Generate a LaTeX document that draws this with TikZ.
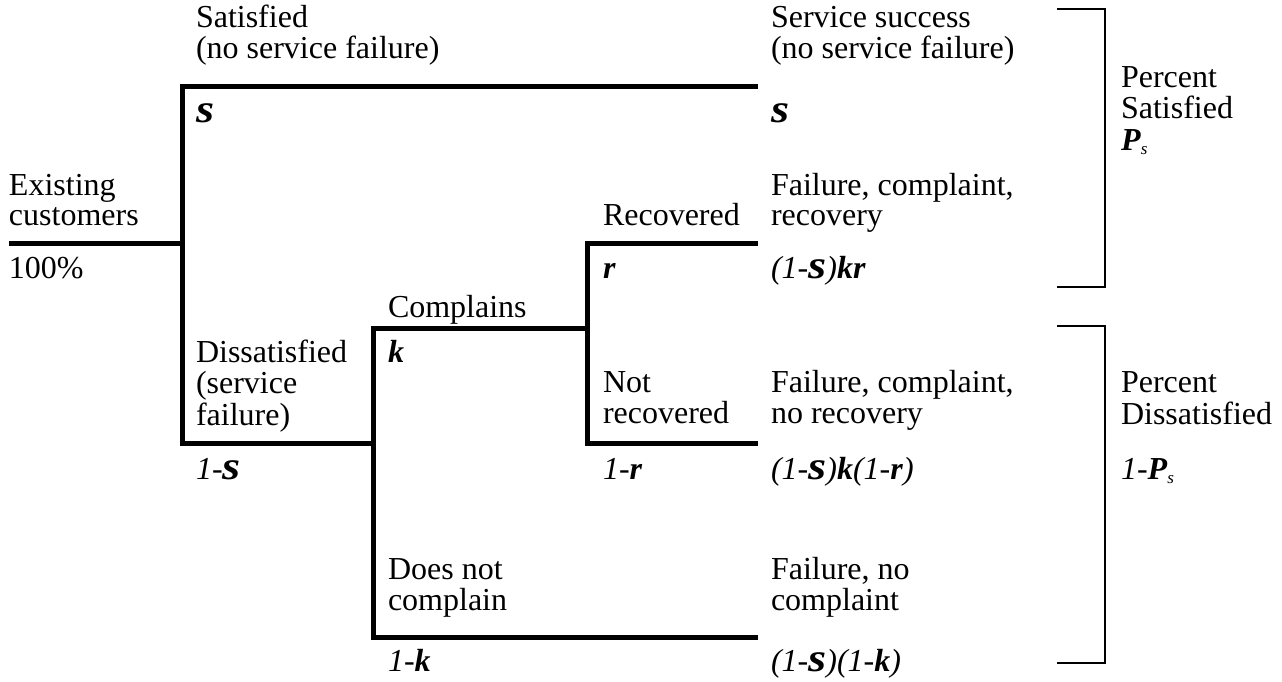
\documentclass[tikz,border=0pt]{standalone}
\usepackage{fontspec}
\usepackage{graphicx}
\setmainfont{Liberation Serif}
\newcommand\sv{\scalebox{1.45}[1.25]{\textbf{\textit{s}}}}
\newcommand\bi[1]{\textbf{\textit{#1}}}
\newcommand\Ps{\bi{P}\raisebox{-0.3ex}{\fontsize{17}{17}\selectfont\textit{s}}}
\newcommand\ml[1]{\begin{tabular}[t]{@{}l@{}}#1\end{tabular}}
\tikzset{
  tree/.style={line width=5pt, line join=miter, line cap=rect},
  brk/.style={line width=1.8pt, line join=miter},
  lbl/.style={anchor=base west, inner sep=0pt, outer sep=0pt, font=\fontsize{32}{30.5}\selectfont}
}
\begin{document}
\begin{tikzpicture}[x=1pt,y=-1pt]
\useasboundingbox (0,0) rectangle (1282,681);
\renewcommand\arraystretch{1}
% tree coordinates
\coordinate (root) at (11,243);
\coordinate (j1) at (182,243);
\coordinate (sTop) at (182,86);
\coordinate (sEnd) at (755,86);
\coordinate (j1b) at (182,443);
\coordinate (j2) at (373,443);
\coordinate (j2t) at (373,328);
\coordinate (j2b) at (373,637);
\coordinate (j3) at (587,328);
\coordinate (j3t) at (587,243);
\coordinate (j3b) at (587,443);
\coordinate (rEnd) at (755,243);
\coordinate (nrEnd) at (755,443);
\coordinate (ncEnd) at (755,637);
\draw[tree] (root) -- (j1);
\draw[tree] (sEnd) -- (sTop) -- (j1b) -- (j2);
\draw[tree] (j2t) -- (j2b) -- (ncEnd);
\draw[tree] (j2t) -- (j3);
\draw[tree] (rEnd) -- (j3t) -- (j3b) -- (nrEnd);
% brackets
\coordinate (b1a) at (1057,9);
\coordinate (b1b) at (1105,9);
\coordinate (b1c) at (1105,287);
\coordinate (b1d) at (1057,287);
\coordinate (b2a) at (1057,326);
\coordinate (b2b) at (1105,326);
\coordinate (b2c) at (1105,663);
\coordinate (b2d) at (1057,663);
\draw[brk] (b1a) -- (b1b) -- (b1c) -- (b1d);
\draw[brk] (b2a) -- (b2b) -- (b2c) -- (b2d);
% labels
\node[lbl] (sat) at (196,27) {\ml{Satisfied\\(no service failure)}};
\node[lbl] (satv) at (196,122) {\sv};
\node[lbl] (succ) at (771,27) {\ml{Service success\\(no service failure)}};
\node[lbl] (succv) at (771,122) {\sv};
\node[lbl] (pctS) at (1121,87) {\ml{Percent\\Satisfied}};
\node[lbl] (pctSv) at (1121,150) {\Ps};
\node[lbl] (exist) at (9,195) {\ml{Existing\\customers}};
\node[lbl] (existv) at (9,278) {100\%};
\node[lbl] (fcr) at (771,195) {\ml{Failure, complaint,\\recovery}};
\node[lbl] (fcrv) at (771,278) {\textit{(1-}\sv\textit{)}\bi{kr}};
\node[lbl] (rec) at (603,225.5) {Recovered};
\node[lbl] (recv) at (603,278) {\bi{r}};
\node[lbl] (comp) at (388,317) {Complains};
\node[lbl] (compv) at (388,362) {\bi{k}};
\node[lbl] (dis) at (196,362) {\ml{Dissatisfied\\(service\\failure)}};
\node[lbl] (disv) at (196,479) {\textit{1-}\sv};
\node[lbl] (nrec) at (603,392.5) {\ml{Not\\recovered}};
\node[lbl] (nrecv) at (603,479) {\textit{1-}\bi{r}};
\node[lbl] (fcn) at (771,392.5) {\ml{Failure, complaint,\\no recovery}};
\node[lbl] (fcnv) at (771,479) {\textit{(1-}\sv\textit{)}\bi{k}\textit{(1-}\bi{r}\textit{)}};
\node[lbl] (pctD) at (1121,392.5) {\ml{Percent\\Dissatisfied}};
\node[lbl] (pctDv) at (1121,479) {\textit{1-}\Ps};
\node[lbl] (dnc) at (388,579) {\ml{Does not\\complain}};
\node[lbl] (dncv) at (388,671) {\textit{1-}\bi{k}};
\node[lbl] (fnc) at (771,579) {\ml{Failure, no\\complaint}};
\node[lbl] (fncv) at (771,671) {\textit{(1-}\sv\textit{)(1-}\bi{k}\textit{)}};
\end{tikzpicture}
\end{document}
